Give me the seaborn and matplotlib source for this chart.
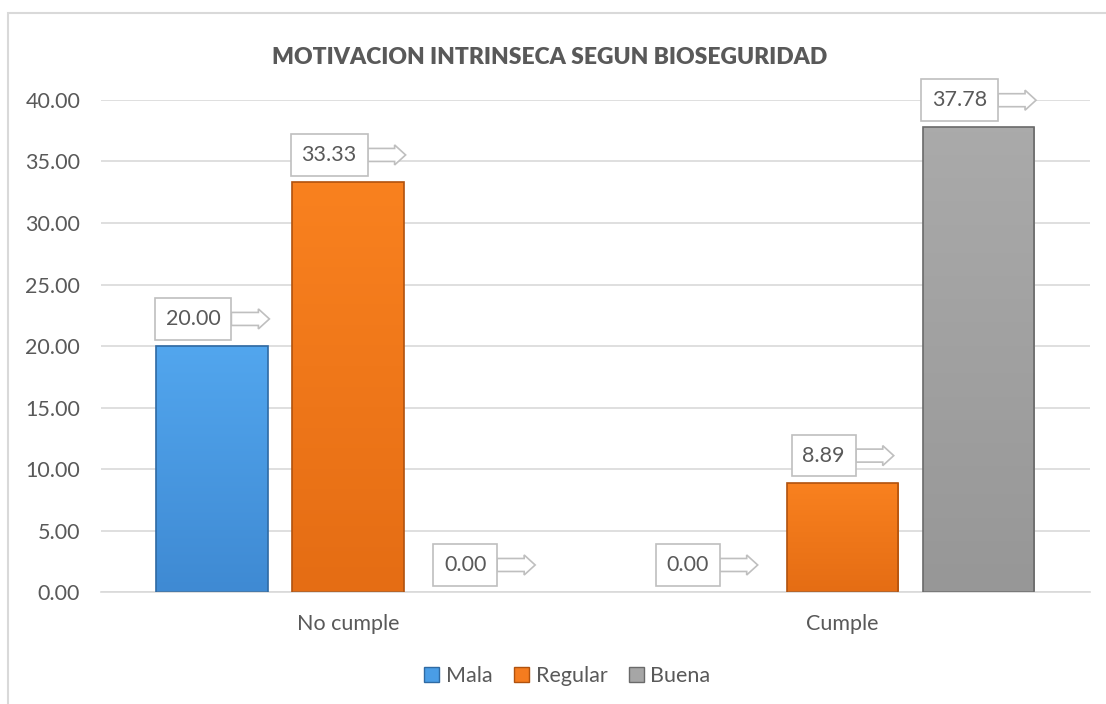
import numpy as np
import pandas as pd
import seaborn as sns
import matplotlib.pyplot as plt
from matplotlib.colors import LinearSegmentedColormap
from matplotlib.patches import Polygon, Rectangle
from matplotlib.transforms import IdentityTransform


grupos = ["No cumple", "Cumple"]
niveles = ["Mala", "Regular", "Buena"]
mala = [20.00, 0.00]
regular = [33.33, 8.89]
buena = [0.00, 37.78]

titulo = "MOTIVACION INTRINSECA SEGUN BIOSEGURIDAD"
colores = {"Mala": "#4a9de6", "Regular": "#f57c1f", "Buena": "#a6a6a6"}
degradados = {"Mala": ("#52a6ee", "#3f8ad3"),
              "Regular": ("#f9811f", "#e56d14"),
              "Buena": ("#aaaaaa", "#979797")}
bordes = {"Mala": "#2f6aa3", "Regular": "#b0520e", "Buena": "#6a6a6a"}
gris_texto = "#595959"

df = pd.DataFrame({
    "grupo": grupos * 3,
    "nivel": [n for n in niveles for _ in grupos],
    "valor": mala + regular + buena,
})

sns.set_style("white")
plt.rcParams["font.family"] = ["Lato", "DejaVu Sans"]

fig = plt.figure(figsize=(11.06, 7.04), dpi=100)
ax = fig.add_axes([0.0913, 0.159, 0.8942, 0.699])

sns.barplot(data=df, x="grupo", y="valor", hue="nivel", order=grupos,
            hue_order=niveles, palette=colores, saturation=1, width=0.825,
            gap=0.18, ax=ax, legend=True)

ax.set_ylim(0, 40)
ax.set_xlim(-0.5, 1.5)

# degradado suave dentro de cada barra
for cont, nivel in zip(ax.containers, niveles):
    cmap = LinearSegmentedColormap.from_list(nivel, degradados[nivel][::-1])
    for barra in cont:
        h = barra.get_height()
        if h <= 0:
            barra.set_visible(False)
            continue
        barra.set_edgecolor(bordes[nivel])
        barra.set_linewidth(1.2)
        x0 = barra.get_x()
        img = ax.imshow(np.linspace(0, 1, 100).reshape(-1, 1), cmap=cmap,
                        origin="lower", aspect="auto",
                        extent=(x0, x0 + barra.get_width(), 0, h), zorder=2)
        img.set_clip_path(barra)
        barra.set_zorder(3)
        barra.set_facecolor("none")

ax.set_ylim(0, 40)
ax.set_xlim(-0.5, 1.5)
ax.set_yticks([0, 5, 10, 15, 20, 25, 30, 35, 40])
ax.set_yticklabels([f"{v:.2f}" for v in ax.get_yticks()])
ax.yaxis.grid(True, color="#d9d9d9", linewidth=1.2)
ax.set_axisbelow(True)
for lado in ["left", "right", "top"]:
    ax.spines[lado].set_visible(False)
ax.spines["bottom"].set_color("#d9d9d9")
ax.spines["bottom"].set_linewidth(1.2)
ax.tick_params(axis="y", length=0, pad=15, labelsize=15.5, labelcolor=gris_texto)
ax.tick_params(axis="x", length=0, pad=16, labelsize=15.5, labelcolor=gris_texto)
ax.set_xlabel("")
ax.set_ylabel("")

fig.text(0.497, 0.919, titulo, ha="center", va="center", fontsize=16.5,
         fontweight="heavy", color=gris_texto)

handles, labels = ax.get_legend_handles_labels()
leg = ax.legend(handles, labels, loc="center", bbox_to_anchor=(0.513, 0.04),
                bbox_transform=fig.transFigure, ncol=3, frameon=False,
                fontsize=15.5, labelcolor=gris_texto, handlelength=0.7,
                handleheight=0.7, handletextpad=0.3, columnspacing=1.0)
for hnd, nivel in zip(leg.legend_handles, niveles):
    hnd.set_edgecolor(bordes[nivel])
    hnd.set_linewidth(1)

# etiquetas con flecha
largo_flecha = 38
etiquetas = []
for cont, nivel in zip(ax.containers, niveles):
    for barra in cont:
        cx = barra.get_x() + barra.get_width() / 2
        h = barra.get_height()
        t = ax.annotate(f"{h:.2f}", xy=(cx, h),
                        xytext=(-largo_flecha / 2 * 0.72, 19.5),
                        textcoords="offset points", ha="center", va="center",
                        fontsize=15.5, color=gris_texto, annotation_clip=False,
                        zorder=6,
                        bbox=dict(boxstyle="square,pad=0.5", fc="white",
                                  ec="#bfbfbf", lw=1.2))
        etiquetas.append(t)

fig.canvas.draw()
for t in etiquetas:
    bb = t.get_bbox_patch().get_window_extent()
    x0 = bb.x1
    yc = (bb.y0 + bb.y1) / 2
    puntos = [(x0, yc + 6.5), (x0 + 27, yc + 6.5), (x0 + 27, yc + 10),
              (x0 + largo_flecha, yc), (x0 + 27, yc - 10), (x0 + 27, yc - 6.5),
              (x0, yc - 6.5)]
    flecha = Polygon(puntos, closed=True, fc="white", ec="#bfbfbf", lw=1.2,
                     transform=IdentityTransform(), clip_on=False, zorder=5)
    ax.add_artist(flecha)

# marco del grafico
fig.patches.append(Rectangle((8 / 1106, -0.1), 1.2, 1 - 13 / 704 + 0.1,
                             transform=fig.transFigure, fill=False,
                             ec="#d9d9d9", lw=1.5))

fig.savefig("out.png", dpi=100)
